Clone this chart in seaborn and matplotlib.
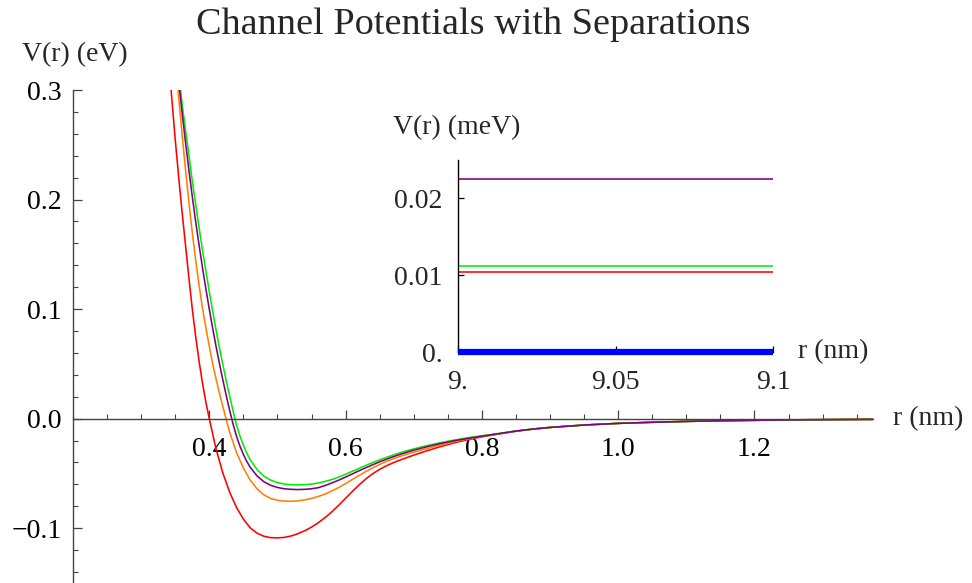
import matplotlib
matplotlib.use("Agg")
import matplotlib.pyplot as plt
import matplotlib.ticker as mticker
import pandas as pd
import seaborn as sns

# Channel potentials V(r) in eV versus r in nm (near-field part of each curve)
r_red = [0.340, 0.345, 0.350, 0.355, 0.360, 0.365, 0.370, 0.375, 0.380, 0.385,
         0.390, 0.395, 0.400, 0.410, 0.420, 0.430, 0.440, 0.450, 0.460, 0.470,
         0.480, 0.490, 0.500, 0.510, 0.520, 0.530, 0.540, 0.550, 0.560, 0.570,
         0.580, 0.590, 0.600, 0.610, 0.620, 0.630, 0.640, 0.650, 0.660, 0.670,
         0.680, 0.690, 0.700, 0.720, 0.740, 0.760, 0.780, 0.800, 0.825, 0.850]
v_red = [0.330, 0.292, 0.255, 0.221, 0.189, 0.159, 0.129, 0.1005, 0.0750, 0.0525,
         0.0325, 0.0150, 0.0000, -0.0278, -0.0498, -0.0673, -0.0811, -0.0917, -0.0996, -0.1045,
         -0.1073, -0.1086, -0.1088, -0.1084, -0.1071, -0.1050, -0.1023, -0.0990, -0.0950, -0.0903,
         -0.0850, -0.0790, -0.0727, -0.0664, -0.0604, -0.0549, -0.0502, -0.0463, -0.0430, -0.0402,
         -0.0378, -0.0355, -0.0333, -0.0292, -0.0254, -0.0220, -0.0191, -0.0166, -0.0139, -0.0115]

r_orange = [0.350, 0.355, 0.360, 0.365, 0.370, 0.375, 0.380, 0.385, 0.390, 0.395,
            0.400, 0.405, 0.410, 0.415, 0.420, 0.425, 0.430, 0.440, 0.450, 0.460,
            0.470, 0.480, 0.490, 0.500, 0.510, 0.520, 0.530, 0.540, 0.550, 0.560,
            0.570, 0.580, 0.590, 0.600, 0.610, 0.620, 0.630, 0.640, 0.650, 0.660,
            0.670, 0.680, 0.690, 0.700, 0.720, 0.740, 0.760, 0.780, 0.800, 0.825,
            0.850]
v_orange = [0.330, 0.294, 0.260, 0.228, 0.198, 0.170, 0.145, 0.122, 0.101, 0.083,
            0.066, 0.050, 0.036, 0.023, 0.0110, -0.0010, -0.0125, -0.0310, -0.0450, -0.0560,
            -0.0640, -0.0695, -0.0728, -0.0745, -0.0752, -0.0754, -0.0750, -0.0741, -0.0728, -0.0710,
            -0.0688, -0.0660, -0.0628, -0.0593, -0.0555, -0.0518, -0.0482, -0.0448, -0.0418, -0.0390,
            -0.0366, -0.0344, -0.0324, -0.0306, -0.0272, -0.0240, -0.0210, -0.0184, -0.0162, -0.0138,
            -0.0114]

r_green = [0.352, 0.355, 0.360, 0.365, 0.370, 0.375, 0.380, 0.385, 0.390, 0.395,
           0.400, 0.405, 0.410, 0.415, 0.420, 0.425, 0.430, 0.435, 0.440, 0.445,
           0.450, 0.455, 0.460, 0.470, 0.480, 0.490, 0.500, 0.510, 0.520, 0.530,
           0.540, 0.550, 0.560, 0.570, 0.580, 0.590, 0.600, 0.610, 0.620, 0.630,
           0.640, 0.650, 0.660, 0.670, 0.680, 0.690, 0.700, 0.720, 0.740, 0.760,
           0.780, 0.800, 0.825, 0.850]
v_green = [0.334, 0.317, 0.288, 0.264, 0.241, 0.217, 0.196, 0.1745, 0.154, 0.1349,
           0.116, 0.0979, 0.0808, 0.0642, 0.0491, 0.0341, 0.0203, 0.0068, -0.0060, -0.0159,
           -0.0242, -0.0314, -0.0375, -0.0464, -0.0525, -0.0561, -0.0583, -0.0597, -0.0603, -0.0605,
           -0.0603, -0.0597, -0.0587, -0.0573, -0.0555, -0.0533, -0.0507, -0.0480, -0.0453, -0.0426,
           -0.0400, -0.0376, -0.0353, -0.0332, -0.0312, -0.0293, -0.0276, -0.0245, -0.0218, -0.0195,
           -0.0174, -0.0156, -0.0135, -0.0112]

r_purple = [0.352, 0.355, 0.360, 0.365, 0.370, 0.375, 0.380, 0.385, 0.390, 0.395,
            0.400, 0.405, 0.410, 0.415, 0.420, 0.425, 0.430, 0.435, 0.440, 0.445,
            0.450, 0.455, 0.460, 0.470, 0.480, 0.490, 0.500, 0.510, 0.520, 0.530,
            0.540, 0.550, 0.560, 0.570, 0.580, 0.590, 0.600, 0.610, 0.620, 0.630,
            0.640, 0.650, 0.660, 0.670, 0.680, 0.690, 0.700, 0.720, 0.740, 0.760,
            0.780, 0.800, 0.825, 0.850]
v_purple = [0.326, 0.3083, 0.2798, 0.2528, 0.2273, 0.2030, 0.1800, 0.1585, 0.1380, 0.1185,
            0.1000, 0.0825, 0.0658, 0.0500, 0.0350, 0.0208, 0.0073, -0.0052, -0.0161, -0.0251,
            -0.0326, -0.0390, -0.0443, -0.0522, -0.0575, -0.0608, -0.0628, -0.0640, -0.0645, -0.0647,
            -0.0645, -0.0640, -0.0630, -0.0610, -0.0587, -0.0561, -0.0533, -0.0504, -0.0475, -0.0447,
            -0.0420, -0.0394, -0.0370, -0.0347, -0.0326, -0.0306, -0.0288, -0.0255, -0.0226, -0.0201,
            -0.0179, -0.0160, -0.0137, -0.0113]

# Common long-range tail shared by all four channels
r_tail = [0.875, 0.900, 0.950, 1.000, 1.050, 1.100, 1.150, 1.200, 1.250, 1.300, 1.374]
v_tail = [-0.0095, -0.0080, -0.0058, -0.0043, -0.0033, -0.0025, -0.0019, -0.0015, -0.0011, -0.0009, -0.0006]

# Far-field offsets at large separation (meV) over r = 9.0 ... 9.1 nm
far_r = [9.0, 9.1]
far_purple = [0.0225, 0.0225]
far_green = [0.0112, 0.0112]
far_red = [0.0104, 0.0104]
far_blue = [0.0, 0.0]

x_ticks = [0.4, 0.6, 0.8, 1.0, 1.2]
y_ticks = [-0.1, 0.0, 0.1, 0.2, 0.3]
inset_x_ticks = [9.0, 9.05, 9.1]
inset_x_labels = ["9.", "9.05", "9.1"]
inset_y_ticks = [0.0, 0.01, 0.02]
inset_y_labels = ["0.", "0.01", "0.02"]

colors = {"red": "#ff0000", "orange": "#ff8000", "green": "#00ee00",
          "purple": "#800080", "blue": "#0000ff"}

sns.set_style("ticks")
plt.rcParams["font.family"] = ["Liberation Serif", "DejaVu Serif"]

W, H = 972, 583
fig = plt.figure(figsize=(W / 100, H / 100), dpi=100)


def fx(px):
    return px / W


def fy(py):
    return 1 - py / H


FS = 20
axis_col = "#444444"

# ---- main panel ----
ax = fig.add_axes([fx(73), fy(583), fx(873) - fx(73), fy(90) - fy(583)])
ax.set_facecolor("none")

frames = []
for name, rr, vv in [("red", r_red, v_red), ("orange", r_orange, v_orange),
                     ("green", r_green, v_green), ("purple", r_purple, v_purple)]:
    frames.append(pd.DataFrame({"r": rr + r_tail, "V": vv + v_tail, "curve": name}))
df = pd.concat(frames, ignore_index=True)

sns.lineplot(data=df, x="r", y="V", hue="curve",
             hue_order=["red", "orange", "green", "purple"],
             palette=colors, estimator=None, sort=False, legend=False,
             linewidth=1.15, ax=ax)

ax.set_xlim(0.2, 1.374)
ax.set_ylim(-0.15, 0.3)
ax.spines["top"].set_visible(False)
ax.spines["right"].set_visible(False)
ax.spines["bottom"].set_position(("data", 0))
for s in ("left", "bottom"):
    ax.spines[s].set_color(axis_col)
    ax.spines[s].set_linewidth(1.0)

ax.set_xticks(x_ticks)
ax.set_xticklabels([f"{t:.1f}" for t in x_ticks])
ax.set_yticks(y_ticks)
ax.set_yticklabels([f"{t:.1f}".replace("-", "\u2212") for t in y_ticks])
ax.xaxis.set_minor_locator(mticker.MultipleLocator(0.05))
ax.yaxis.set_minor_locator(mticker.MultipleLocator(0.02))
ax.tick_params(axis="both", which="major", direction="in", length=6.5, width=0.9,
               color=axis_col, labelsize=FS, labelcolor="black")
ax.tick_params(axis="both", which="minor", direction="in", length=3.8, width=0.8,
               color=axis_col)
ax.tick_params(axis="x", which="major", pad=13)
ax.tick_params(axis="y", which="major", pad=8)
ax.set_xlabel("")
ax.set_ylabel("")

fig.text(fx(22), fy(55), "V(r) (eV)", fontsize=FS, ha="left", va="center")
fig.text(fx(893), fy(419), "r (nm)", fontsize=FS, ha="left", va="center")
fig.text(fx(473), fy(25), "Channel Potentials with Separations", fontsize=27.5,
         ha="center", va="center")

# ---- inset: far-field offsets ----
axi = fig.add_axes([fx(458), fy(352), fx(773) - fx(458), fy(160) - fy(352)])
axi.set_facecolor("none")
far = pd.concat([
    pd.DataFrame({"r": far_r, "V": far_red, "curve": "red"}),
    pd.DataFrame({"r": far_r, "V": far_green, "curve": "green"}),
    pd.DataFrame({"r": far_r, "V": far_purple, "curve": "purple"}),
], ignore_index=True)
sns.lineplot(data=far, x="r", y="V", hue="curve",
             hue_order=["red", "green", "purple"], palette=colors,
             estimator=None, legend=False, linewidth=1.15, ax=axi)
sns.lineplot(x=far_r, y=far_blue, color=colors["blue"], estimator=None,
             legend=False, linewidth=4.5, ax=axi, clip_on=False, zorder=4,
             solid_capstyle="butt")
axi.set_xlim(9.0, 9.1)
axi.set_ylim(0.0, 0.025)
axi.spines["top"].set_visible(False)
axi.spines["right"].set_visible(False)
for s in ("left", "bottom"):
    axi.spines[s].set_color("black")
    axi.spines[s].set_linewidth(1.0)
axi.set_xticks(inset_x_ticks)
axi.set_xticklabels(inset_x_labels)
axi.set_yticks(inset_y_ticks)
axi.set_yticklabels(inset_y_labels)
axi.tick_params(axis="both", which="major", direction="in", length=4.5, width=0.9,
                color="black", labelsize=FS)
axi.tick_params(axis="x", pad=13)
axi.tick_params(axis="y", pad=11)
axi.set_xlabel("")
axi.set_ylabel("")

fig.text(fx(393), fy(128), "V(r) (meV)", fontsize=FS, ha="left", va="center")
fig.text(fx(798), fy(352), "r (nm)", fontsize=FS, ha="left", va="center")

fig.savefig("out.png", dpi=100)
